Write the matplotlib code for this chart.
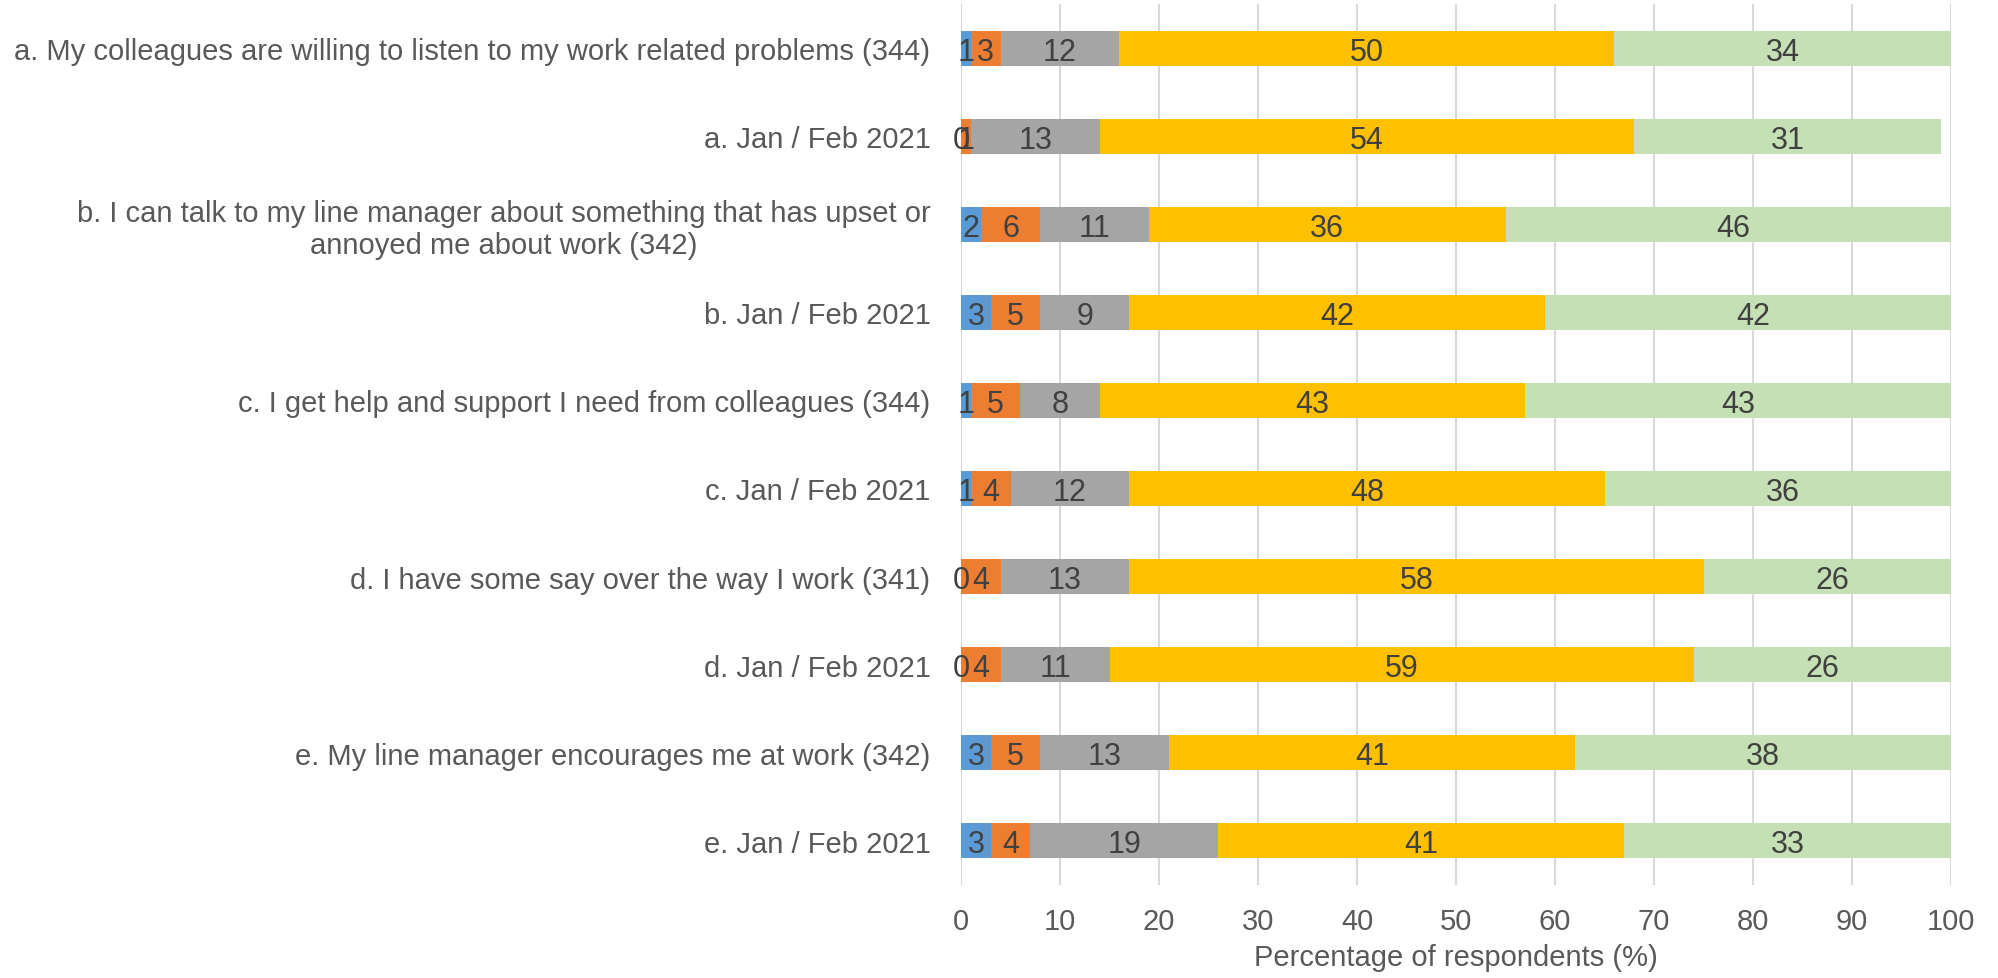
import matplotlib.pyplot as plt
import numpy as np

plt.rcParams['font.family'] = ['Liberation Sans', 'DejaVu Sans']

# Row labels, top to bottom
categories = [
    "a. My colleagues are willing to listen to my work related problems (344)",
    "a. Jan / Feb 2021",
    "b. I can talk to my line manager about something that has upset or\nannoyed me about work (342)",
    "b. Jan / Feb 2021",
    "c. I get help and support I need from colleagues (344)",
    "c. Jan / Feb 2021",
    "d. I have some say over the way I work (341)",
    "d. Jan / Feb 2021",
    "e. My line manager encourages me at work (342)",
    "e. Jan / Feb 2021",
]

# Percentages for the five response levels
level1 = [1, 0, 2, 3, 1, 1, 0, 0, 3, 3]
level2 = [3, 1, 6, 5, 5, 4, 4, 4, 5, 4]
level3 = [12, 13, 11, 9, 8, 12, 13, 11, 13, 19]
level4 = [50, 54, 36, 42, 43, 48, 58, 59, 41, 41]
level5 = [34, 31, 46, 42, 43, 36, 26, 26, 38, 33]

colors = ["#5B9BD5", "#ED7D31", "#A5A5A5", "#FFC000", "#C5E0B4"]

fig = plt.figure(figsize=(19.98, 9.79), dpi=100)
ax = fig.add_axes([0.481, 0.0953, 0.4955, 0.8994])

y = np.arange(len(categories))
left = np.zeros(len(categories))
for vals, c in zip([level1, level2, level3, level4, level5], colors):
    vals = np.array(vals, dtype=float)
    ax.barh(y, vals, left=left, height=0.4, color=c, zorder=3)
    for yi, l, v in zip(y, left, vals):
        ax.text(l + v / 2, yi, f"{v:.0f}", ha="center", va="center_baseline",
                fontsize=22, color="#404040", zorder=4)
    left += vals

ax.set_xlim(0, 100)
ax.set_ylim(len(categories) - 0.5, -0.5)
ax.set_xticks(np.arange(0, 101, 10))
ax.set_yticks(y)
ax.set_yticklabels(categories, fontsize=21, color="#595959",
                   multialignment="center", linespacing=1.15)
ax.tick_params(axis="y", length=0, pad=22)
ax.tick_params(axis="x", length=0, labelsize=21, labelcolor="#595959", pad=16)

ax.grid(axis="x", color="#D9D9D9", linewidth=1.5, zorder=0)
for s in ax.spines.values():
    s.set_visible(False)

ax.set_xlabel("Percentage of respondents (%)", fontsize=21, color="#595959", labelpad=6)

plt.savefig("out.png", dpi=100)
